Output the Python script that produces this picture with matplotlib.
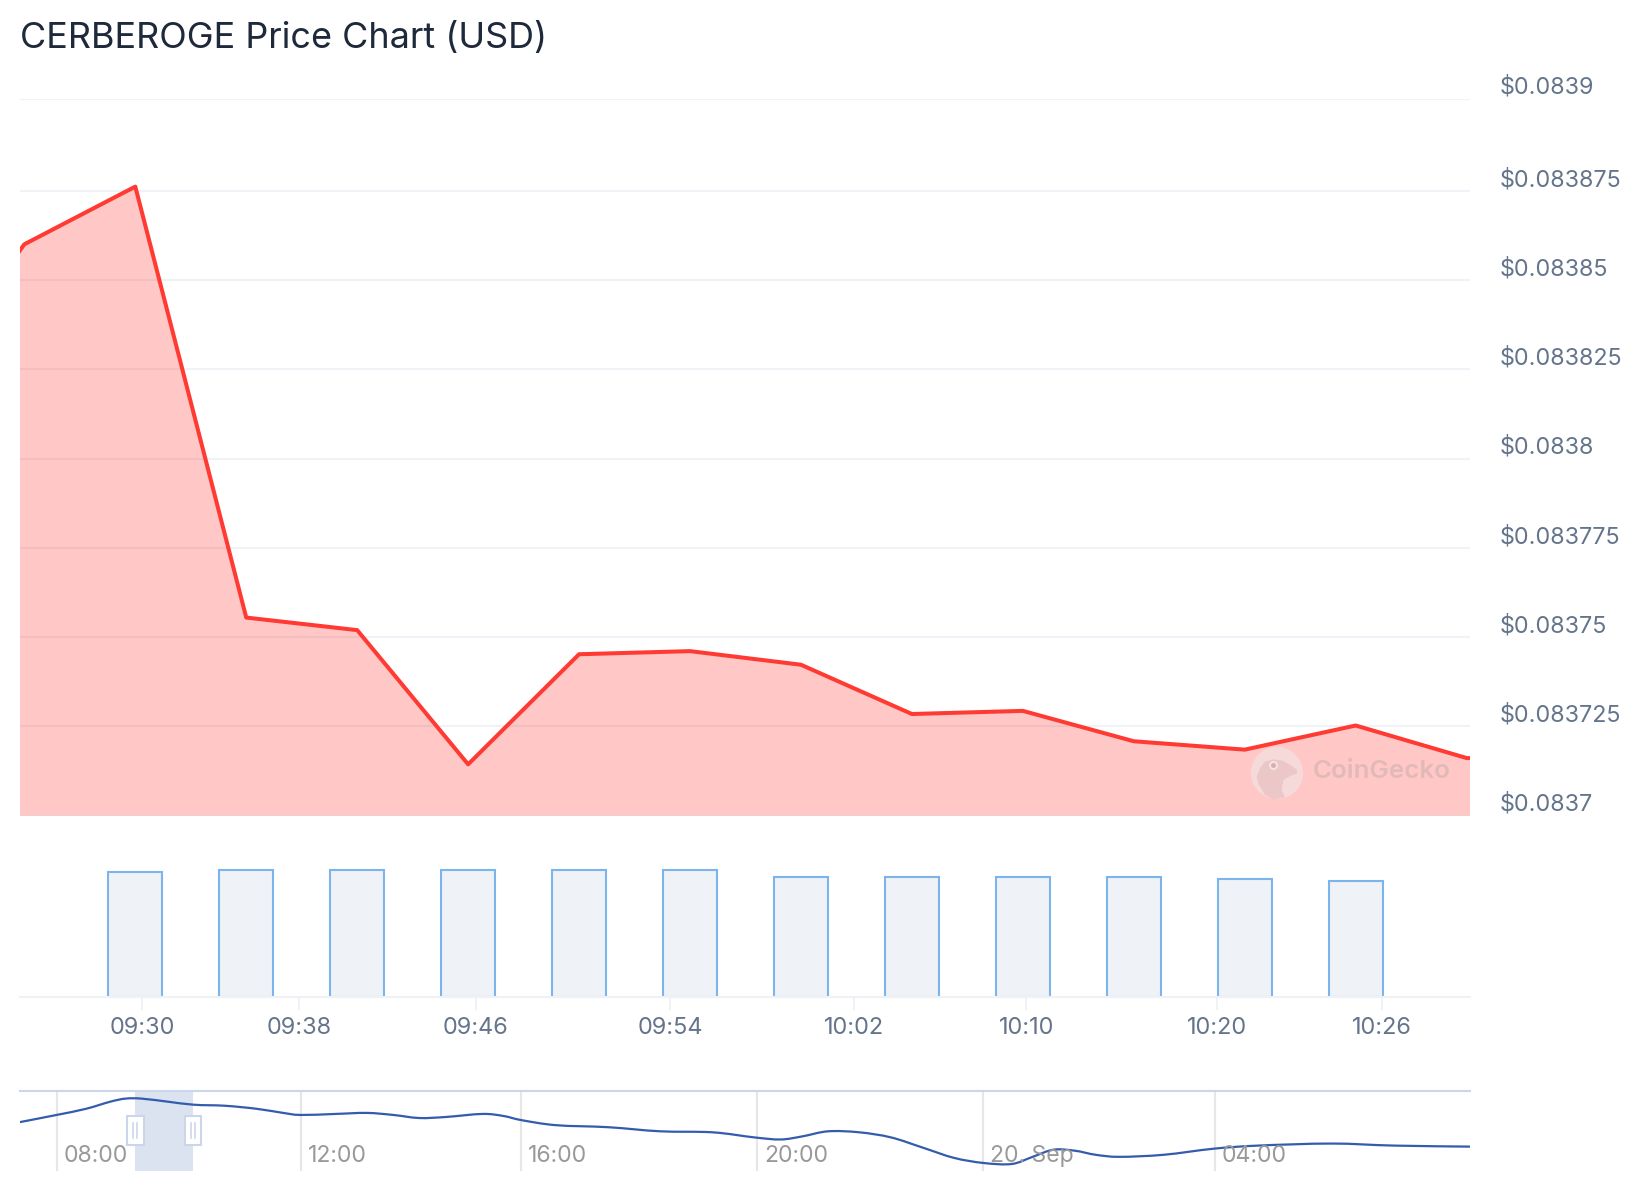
import matplotlib
matplotlib.use('Agg')
import matplotlib.pyplot as plt
from matplotlib.patches import Ellipse, Polygon, Rectangle, PathPatch
from matplotlib.path import Path
import numpy as np

# price points, index -2 and 13 fall outside the visible window
price_idx = [-2, -1, 0, 1, 2, 3, 4, 5, 6, 7, 8, 9, 10, 11, 12, 13]
price = [0.08381686, 0.08386003, 0.08387618, 0.08375549, 0.08375197, 0.08371439,
         0.08374522, 0.08374609, 0.08374228, 0.08372848, 0.08372936, 0.08372085,
         0.0837185, 0.08372526, 0.08371615, 0.08371526]
# the top tick is not quite round, the label is
price_ticks = [0.0837, 0.083725, 0.08375, 0.083775, 0.0838, 0.083825, 0.08385, 0.083875, 0.08390084]
price_labels = ['$0.0837', '$0.083725', '$0.08375', '$0.083775', '$0.0838',
                '$0.083825', '$0.08385', '$0.083875', '$0.0839']

volume = [119, 121, 121, 121, 121, 121, 115, 115, 115, 115, 113, 111]
time_labels = ['09:30', '09:38', '09:46', '09:54', '10:02', '10:10', '10:20', '10:26']
time_ticks = [0.06, 1.48, 3.07, 4.82, 6.48, 8.03, 9.75, 11.24]

# navigator line, hours since 08:00
nav_hours = [-0.6, 0, 0.48, 0.88, 1.13, 1.39, 1.82, 2.25, 2.76, 3.28, 3.71, 4, 4.63, 5.2, 5.68,
             6.15, 6.63, 7.3, 7.68, 8, 8.59, 9.48, 10.36, 11.25, 11.96, 12.42, 12.8, 13.26, 13.81,
             14.37, 14.93, 15.48, 16, 16.49, 16.85, 17.21, 17.58, 17.94, 18.35, 19.11, 19.98,
             20.74, 22.01, 23.09, 24.4]
nav_price = [.08376, .083774, .083786, .0838, .083806, .083806, .0838, .083794, .083792, .083786,
             .083778, .083774, .083776, .083778, .083774, .083768, .08377, .083776, .083772,
             .083764, .083754, .08375, .083742, .08374, .08373, .083726, .083732, .083742, .08374,
             .08373, .08371, .08369, .08368, .083678, .083692, .083706, .083704, .083696, .083692,
             .083696, .083708, .083714, .083718, .083714, .083712]
nav_tick_hours = [0, 4, 8, 12, 16, 20]
nav_tick_labels = ['08:00', '12:00', '16:00', '20:00', '20. Sep', '04:00']
nav_tick_pos = [54, 287, 497, 722, 938, 1159]

W, H = 1644, 1200
S = W / 1568.0  # the numbers below were read on a 1568 wide view
TEXT = '#64748B'
GRID = '#EFF2F6'

plt.rcParams['font.family'] = ['Inter', 'DejaVu Sans']


def make_axes(fig, left, top, right, bottom):
    return fig.add_axes([left * S / W, 1 - bottom * S / H, (right - left) * S / W, (bottom - top) * S / H])


def clean(ax):
    for s in ax.spines.values():
        s.set_visible(False)
    ax.patch.set_alpha(0)


def smooth_path(xs, ys):
    # catmull-rom through the read points, the original line is a spline
    pts = np.column_stack([xs, ys])
    verts = [pts[0]]
    codes = [Path.MOVETO]
    for i in range(len(pts) - 1):
        p0 = pts[max(i - 1, 0)]
        p1 = pts[i]
        p2 = pts[i + 1]
        p3 = pts[min(i + 2, len(pts) - 1)]
        verts += [p1 + (p2 - p0) / 6, p2 - (p3 - p1) / 6, p2]
        codes += [Path.CURVE4] * 3
    return Path(verts, codes)


def main():
    fig = plt.figure(figsize=(W / 100, H / 100), dpi=100, facecolor='white')

    fig.text(19 * S / W, 1 - 36.5 * S / H, 'CERBEROGE Price Chart (USD)', fontsize=25.9,
             color='#1E293B', va='center', ha='left')

    # price panel
    ax = make_axes(fig, 19, 94, 1402, 778)
    clean(ax)
    ax.set_xlim(-1.04, 12.03)
    ax.set_ylim(0.0837, 0.08390084)
    ax.set_yticks(price_ticks)
    ax.set_yticklabels(price_labels)
    ax.yaxis.tick_right()
    ax.tick_params(axis='y', length=0, pad=28 * S * 0.72, labelsize=16.8, labelcolor=TEXT)
    for lab in ax.get_yticklabels():
        lab.set_va('center')
    ax.set_xticks([])
    ax.grid(axis='y', color=GRID, linewidth=1.5, zorder=0)
    ax.set_axisbelow(True)
    ax.fill_between(price_idx, price, 0.0837, color='#FF3A33', alpha=0.28, linewidth=0, zorder=2)
    ax.plot(price_idx, price, color='#FF3A33', linewidth=2.9, solid_joinstyle='round', zorder=3)
    # labels sit a little above their gridlines
    offset = matplotlib.transforms.ScaledTranslation(0, 11 / 100, fig.dpi_scale_trans)
    for lab in ax.get_yticklabels():
        lab.set_transform(lab.get_transform() + offset)

    # watermark, drawn in image pixels
    wm = make_axes(fig, 1180, 700, 1402, 770)
    wm.set_xlim(1180 * S, 1402 * S)
    wm.set_ylim(770 * S, 700 * S)
    wm.axis('off')
    wm.add_patch(Ellipse((1277, 773), 52, 52, color='#F6DADA', linewidth=0))
    gecko = [(60, 85), (75, 65), (100, 58), (130, 62), (170, 88), (172, 100), (150, 108), (130, 120),
             (125, 150), (135, 172), (100, 178), (75, 165), (55, 130), (50, 110)]
    wm.add_patch(Polygon([(1240 + a / 3, 740 + b / 3) for a, b in gecko], closed=True, color='#EBC7C7', linewidth=0))
    wm.add_patch(Ellipse((1273.5, 765.5), 9, 9, color='#F6E2E2', linewidth=0))
    wm.add_patch(Ellipse((1273.5, 765.5), 5, 5, color='#D9B0B0', linewidth=0))
    wm.text(1252 * S, 736 * S, 'CoinGecko', fontsize=18.7, fontweight='semibold', color='#E2B9B9', va='center', ha='left')

    # volume panel
    vol = make_axes(fig, 19, 790, 1402, 951)
    clean(vol)
    vol.set_xlim(-1.04, 12.03)
    vol.set_ylim(0, 161)
    vol.set_yticks([])
    vol.bar(range(len(volume)), volume, width=0.49, color=GRID, edgecolor='#7CB5EC', linewidth=1.5, zorder=2)
    vol.spines['bottom'].set_visible(True)
    vol.spines['bottom'].set_color('#EEF1F5')
    vol.spines['bottom'].set_linewidth(1.5)
    vol.set_xticks(time_ticks)
    vol.set_xticklabels(time_labels)
    vol.tick_params(axis='x', length=9, width=1.2, color='#EEF1F5', pad=5.5, labelsize=16.9, labelcolor=TEXT)

    # navigator, its time axis is ordinal so use a piecewise scale
    nav = make_axes(fig, 19, 1041, 1402, 1117)
    clean(nav)

    def forward(h):
        return np.interp(h, [-10] + nav_tick_hours + [40],
                         [54 - 10 * 58.25] + nav_tick_pos + [1159 + 20 * 55.25])

    def inverse(p):
        return np.interp(p, [54 - 10 * 58.25] + nav_tick_pos + [1159 + 20 * 55.25],
                         [-10] + nav_tick_hours + [40])

    nav.set_xscale('function', functions=(forward, inverse))
    nav.set_xlim(-0.6, 24.4)
    nav.set_ylim(0.083664, 0.08382)
    nav.set_yticks([])
    nav.spines['top'].set_visible(True)
    nav.spines['top'].set_color('#CCD6EB')
    nav.spines['top'].set_linewidth(1.5)
    nav.set_xticks(nav_tick_hours)
    nav.set_xticklabels([])
    nav.minorticks_off()
    nav.grid(axis='x', color='#E6E6E6', linewidth=1.5, zorder=0)
    nav.tick_params(axis='x', length=0)
    nav.axvspan(1.29, 2.24, color='#6685C2', alpha=0.23, linewidth=0, zorder=1)
    nav.add_patch(PathPatch(smooth_path(nav_hours, nav_price), fill=False, edgecolor='#335CAD',
                            linewidth=1.6, zorder=3))
    for h, lab in zip(nav_tick_hours, nav_tick_labels):
        nav.annotate(lab, (h, 0), xycoords=('data', 'axes fraction'), xytext=(5, 11),
                     textcoords='offset points', fontsize=16.6, color='#999999', ha='left', va='center', zorder=4)

    # navigator handles
    pix = make_axes(fig, 19, 1041, 1402, 1117)
    pix.set_xlim(19, 1402)
    pix.set_ylim(1117, 1041)
    pix.axis('off')
    for cx in [129, 184]:
        pix.add_patch(Rectangle((cx - 8, 1064), 16, 28, facecolor='white', edgecolor='#CCD6EB', linewidth=1.5, zorder=5))
        for dx in [-2, 2]:
            pix.plot([cx + dx, cx + dx], [1071, 1085], color='#CCD6EB', linewidth=1.2, zorder=6)

    fig.savefig('out.png', dpi=100, facecolor='white')
    plt.close('all')


if __name__ == '__main__':
    main()
